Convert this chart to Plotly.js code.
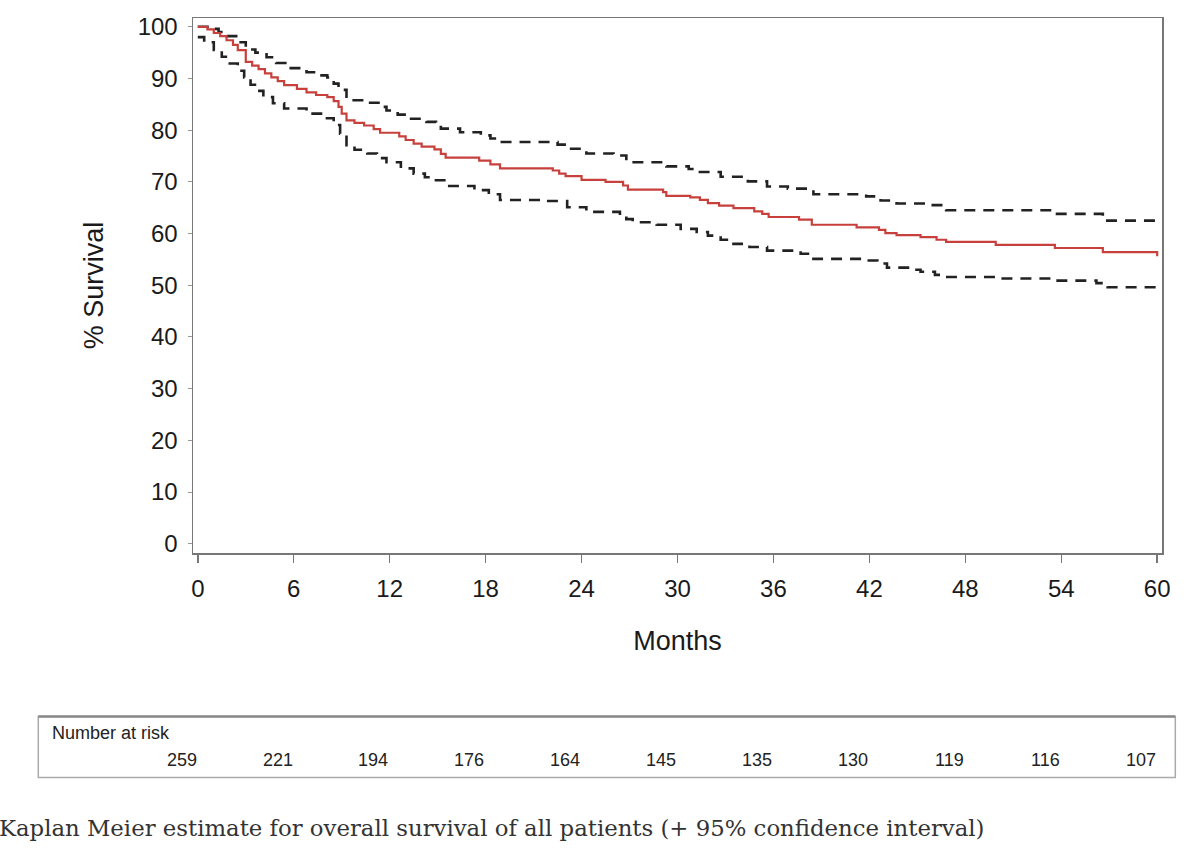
<!DOCTYPE html>
<html>
<head>
<meta charset="utf-8">
<script src="https://cdn.plot.ly/plotly-3.0.1.min.js"></script>
<style>
  html, body { margin: 0; padding: 0; background: #fff; }
  #chart { width: 1200px; height: 857px; }
</style>
</head>
<body>
<div id="chart"></div>
<script>
// Kaplan Meier estimate, step points (month, % survival)
var kmMonths = [0, 0.6, 1.0, 1.4, 1.8, 2.2, 2.5, 3.0, 3.4, 3.8, 4.2, 4.6, 5.0, 5.4, 6.2, 6.8, 7.4, 8.1, 8.5, 8.8, 9.0, 9.3, 9.8, 10.4, 11.0, 11.4, 12.6, 13.0, 13.5, 14.0, 14.8, 15.2, 15.5, 17.6, 18.3, 18.9, 22.2, 22.6, 23.0, 24.0, 25.5, 26.6, 26.9, 29.1, 29.3, 30.8, 31.4, 31.9, 32.6, 33.5, 34.8, 35.3, 35.7, 37.6, 38.4, 41.2, 42.6, 43.0, 43.7, 45.2, 46.2, 46.8, 49.9, 53.6, 56.6, 60.0];
var kmSurvival = [100, 99.5, 98.8, 98.2, 97.4, 96.5, 95.5, 93.2, 92.5, 91.8, 91.0, 90.2, 89.5, 88.7, 88.0, 87.3, 86.8, 86.4, 85.6, 84.5, 83.2, 81.9, 81.4, 80.9, 80.2, 79.5, 78.8, 78.1, 77.4, 76.8, 76.3, 75.4, 74.7, 74.1, 73.4, 72.6, 72.2, 71.6, 71.1, 70.4, 70.0, 69.3, 68.5, 68.0, 67.3, 67.0, 66.5, 65.9, 65.4, 64.9, 64.3, 63.8, 63.2, 62.7, 61.7, 61.2, 60.7, 60.1, 59.7, 59.3, 58.8, 58.4, 57.8, 57.2, 56.4, 55.6];

// upper 95% confidence limit
var upperMonths = [0, 0.7, 1.3, 1.8, 2.4, 3.0, 3.6, 4.3, 4.9, 5.6, 6.8, 7.4, 8.1, 8.5, 8.8, 9.3, 10.6, 11.3, 11.8, 12.5, 13.1, 14.3, 14.9, 15.2, 16.4, 17.7, 18.3, 18.9, 22.5, 23.1, 24.3, 26.0, 26.8, 29.3, 30.7, 31.4, 32.7, 34.4, 35.6, 36.9, 38.5, 41.8, 42.7, 43.7, 45.8, 46.8, 53.4, 56.6, 60.0];
var upperSurvival = [100, 99.6, 99.0, 98.2, 97.0, 95.6, 95.0, 94.1, 93.0, 92.0, 91.2, 90.6, 90.2, 89.0, 87.8, 85.8, 85.3, 84.5, 83.8, 83.0, 82.2, 81.6, 81.0, 80.3, 79.6, 79.0, 78.4, 77.7, 77.2, 76.4, 75.5, 75.1, 73.8, 73.0, 72.5, 71.9, 71.0, 70.1, 69.1, 68.7, 67.6, 67.2, 66.4, 65.8, 65.5, 64.5, 63.8, 62.5, 61.9];

// lower 95% confidence limit
var lowerMonths = [0, 0.4, 1.0, 1.5, 2.0, 2.5, 2.9, 3.3, 3.7, 4.1, 4.7, 5.4, 6.8, 7.9, 8.5, 8.9, 9.3, 9.8, 10.6, 11.2, 11.8, 12.7, 13.5, 14.2, 14.8, 15.6, 17.3, 18.2, 18.9, 21.8, 23.1, 24.3, 26.4, 26.8, 27.2, 28.7, 30.2, 31.2, 31.9, 32.7, 33.5, 34.5, 35.6, 37.7, 38.5, 41.4, 42.5, 43.1, 44.6, 45.2, 46.1, 46.6, 50.0, 53.5, 56.2, 56.9, 60.0];
var lowerSurvival = [98.0, 97.0, 95.5, 94.2, 92.9, 91.5, 90.2, 88.8, 87.6, 86.4, 85.2, 84.2, 83.2, 82.3, 81.0, 79.3, 77.1, 76.2, 75.5, 74.6, 73.8, 72.6, 71.6, 70.9, 70.3, 69.2, 68.4, 67.6, 66.5, 66.3, 65.1, 64.2, 63.5, 62.8, 62.2, 61.7, 60.9, 60.3, 59.6, 58.8, 58.0, 57.4, 56.7, 56.1, 55.1, 54.8, 54.2, 53.4, 53.0, 52.6, 52.0, 51.6, 51.3, 50.9, 50.4, 49.6, 49.6];

// number at risk table
var riskMonths = [0, 6, 12, 18, 24, 30, 36, 42, 48, 54, 60];
var riskCounts = [259, 221, 194, 176, 164, 145, 135, 130, 119, 116, 107];

var tickVals = [0, 6, 12, 18, 24, 30, 36, 42, 48, 54, 60];
var yTickVals = [0, 10, 20, 30, 40, 50, 60, 70, 80, 90, 100];

var caption = 'Kaplan Meier estimate for overall survival of all patients (+ 95% confidence interval)';

// plot area in page pixels
var L = 192.7, R = 1161.7, T = 18, B = 552.7;
function px(x) { return (x - L) / (R - L); }
function py(y) { return (B - y) / (B - T); }

var dashStyle = { color: '#222', width: 2.6, dash: '11px,8px', shape: 'hv' };

var traces = [
  { x: upperMonths, y: upperSurvival, mode: 'lines', line: dashStyle, hoverinfo: 'skip' },
  { x: lowerMonths, y: lowerSurvival, mode: 'lines', line: dashStyle, hoverinfo: 'skip' },
  { x: kmMonths, y: kmSurvival, mode: 'lines',
    line: { color: '#c8403c', width: 2.2, shape: 'hv' } }
];

var sans = 'Liberation Sans, Arial, sans-serif';

var annotations = [];
for (var i = 0; i < riskMonths.length; i++) {
  annotations.push({
    x: riskMonths[i] + 0.05, xref: 'x', y: py(760), yref: 'paper',
    text: String(riskCounts[i]), showarrow: false,
    xanchor: 'right', yanchor: 'middle',
    font: { family: sans, size: 18, color: '#222' }
  });
}
annotations.push({
  x: px(50), xref: 'paper', y: py(733), yref: 'paper',
  text: 'Number at risk', showarrow: false, xanchor: 'left', yanchor: 'middle',
  font: { family: sans, size: 18, color: '#222' }
});
annotations.push({
  x: px(-3), xref: 'paper', y: py(828), yref: 'paper',
  text: caption, showarrow: false, xanchor: 'left', yanchor: 'middle',
  font: { family: 'DejaVu Serif, serif', size: 22.8, color: '#333' }
});

var layout = {
  width: 1200, height: 857,
  margin: { l: L, r: 1200 - R, t: T, b: 857 - B, pad: 0 },
  paper_bgcolor: '#fff', plot_bgcolor: '#fff',
  showlegend: false,
  font: { family: sans, color: '#222' },
  xaxis: {
    range: [-0.3, 60.3], tickvals: tickVals, ticktext: tickVals.map(String),
    showgrid: false, zeroline: false,
    showline: true, mirror: true, linecolor: '#777', linewidth: 1.5,
    ticks: 'outside', ticklen: 8, tickwidth: 1.5, tickcolor: '#777',
    ticklabelstandoff: 6,
    tickfont: { size: 24, color: '#1a1a1a' },
    title: { text: 'Months', font: { size: 27, color: '#1a1a1a' }, standoff: 30 }
  },
  yaxis: {
    range: [-1.8, 101.7], tickvals: yTickVals,
    showgrid: false, zeroline: false,
    showline: true, mirror: true, linecolor: '#777', linewidth: 1.5,
    ticks: 'outside', ticklen: 4, tickwidth: 1, tickcolor: '#999',
    ticklabelstandoff: 5,
    tickfont: { size: 24, color: '#1a1a1a' },
    title: { text: '% Survival', font: { size: 27, color: '#1a1a1a' }, standoff: 26 }
  },
  shapes: [
    { type: 'rect', xref: 'paper', yref: 'paper',
      x0: px(38), x1: px(1175), y0: py(777), y1: py(716),
      line: { color: '#aaa', width: 1.5 } },
    { type: 'line', xref: 'paper', yref: 'paper',
      x0: px(38), x1: px(1175), y0: py(716), y1: py(716),
      line: { color: '#888', width: 2.5 } }
  ],
  annotations: annotations
};

Plotly.newPlot('chart', traces, layout, { staticPlot: true });
</script>
</body>
</html>
